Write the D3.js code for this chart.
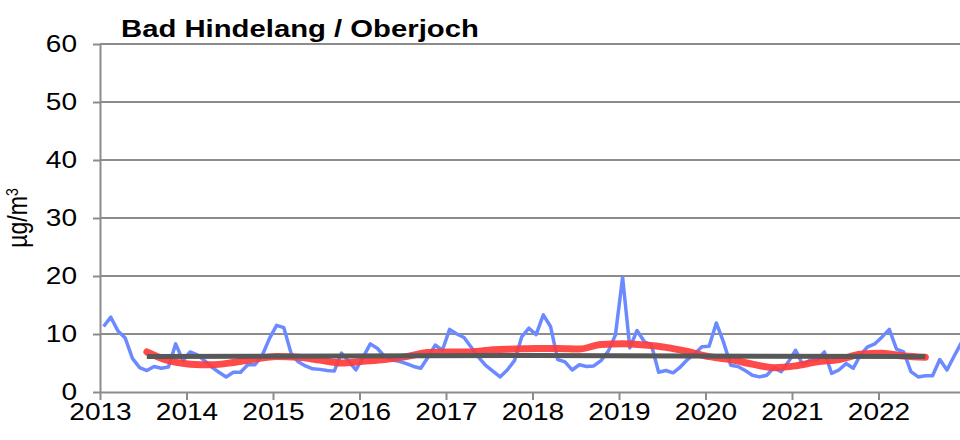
<!DOCTYPE html>
<html>
<head>
<meta charset="utf-8">
<script src="https://cdn.jsdelivr.net/npm/d3@7"></script>
<style>
  body { margin: 0; background: #fff; }
  svg { display: block; font-family: "Liberation Sans", Arial, sans-serif; }
</style>
</head>
<body>
<svg id="chart"></svg>
<script>
// monthly values, Jan 2013 .. Dec 2022
var startYear = 2013;
var blueValues = [
  11.3, 12.9, 10.5, 9.3, 5.8, 4.2, 3.7, 4.4, 4.1, 4.3, 8.3, 5.4,
  6.9, 6.4, 5.4, 4.3, 3.4, 2.6, 3.4, 3.4, 4.7, 4.7, 6.3, 9.2,
  11.5, 11.1, 6.7, 5.2, 4.5, 4.0, 3.9, 3.7, 3.6, 6.7, 5.3, 3.8,
  6.0, 8.3, 7.5, 6.1, 5.5, 5.3, 4.9, 4.4, 4.1, 6.0, 8.1, 7.2,
  10.8, 10.0, 9.4, 7.7, 6.0, 4.6, 3.6, 2.6, 3.8, 5.4, 9.5, 11.0,
  9.9, 13.3, 11.3, 5.6, 5.2, 3.8, 4.7, 4.4, 4.5, 5.4, 7.0, 9.8,
  19.8, 7.6, 10.6, 8.7, 8.1, 3.4, 3.7, 3.3, 4.3, 5.6, 6.6, 7.8,
  7.9, 11.9, 8.6, 4.6, 4.4, 3.7, 2.9, 2.6, 2.9, 4.2, 3.5, 5.2,
  7.2, 4.7, 5.5, 5.5, 6.9, 3.2, 3.8, 4.9, 4.1, 6.4, 7.8, 8.3,
  9.5, 10.8, 7.4, 6.9, 3.5, 2.6, 2.8, 2.8, 5.6, 3.8, 6.2, 8.5
];

// red line read every 3 months, starting Jul 2013 (month index 6)
var redStartMonth = 6;
var redStep = 3;
var redValues = [
  6.9, 5.4, 4.8, 4.7, 5.1, 5.7, 6.1, 6.0, 5.5, 5.0, 5.3, 5.6, 6.1,
  6.8, 6.9, 6.9, 7.3, 7.4, 7.5, 7.5, 7.4, 8.2, 8.3, 8.1, 7.7, 7.0,
  6.1, 5.6, 4.8, 4.2, 4.5, 5.2, 5.6, 6.5, 6.7, 6.2, 6.0
];

// dark trend line
var trendMonths = [6, 60, 114];
var trendValues = [6.1, 6.3, 6.1];

var yTicks = [0, 10, 20, 30, 40, 50, 60];
var xTicks = [2013, 2014, 2015, 2016, 2017, 2018, 2019, 2020, 2021, 2022];

var title = "Bad Hindelang / Oberjoch";

var width = 960, height = 440;
var plot = { left: 100, top: 44, right: 965, bottom: 392 };
var stretch = 1.22; // text in the reference is wider than normal

var svg = d3.select("#chart").attr("width", width).attr("height", height);

var x = d3.scaleLinear().domain([2013, 2023]).range([plot.left, plot.right]);
var y = d3.scaleLinear().domain([0, 60]).range([plot.bottom, plot.top]);

function monthPos(i) {
  return startYear + (i + 0.5) / 12;
}

// gridlines
svg.append("g")
  .selectAll("line")
  .data(yTicks.filter(function (d) { return d > 0; }))
  .enter()
  .append("line")
  .attr("x1", plot.left)
  .attr("x2", width)
  .attr("y1", function (d) { return y(d); })
  .attr("y2", function (d) { return y(d); })
  .attr("stroke", "#8c8c8c")
  .attr("stroke-width", 2);

var yAxis = d3.axisLeft(y).tickValues(yTicks).tickSize(7).tickSizeOuter(0);
var gy = svg.append("g")
  .attr("transform", "translate(" + plot.left + ",0)")
  .call(yAxis);

var xAxis = d3.axisBottom(x).tickValues(xTicks).tickFormat(d3.format("d"))
  .tickSize(8).tickSizeOuter(0);
var gx = svg.append("g")
  .attr("transform", "translate(0," + plot.bottom + ")")
  .call(xAxis);

[gx, gy].forEach(function (g) {
  g.selectAll("path, line").attr("stroke", "#8c8c8c").attr("stroke-width", 2);
  g.selectAll("text")
    .attr("fill", "#000")
    .style("font-size", "23px")
    .style("font-family", "Liberation Sans, Arial, sans-serif");
});
gy.selectAll("text").attr("x", -23 / stretch).attr("transform", "scale(" + stretch + ",1)");
gx.selectAll("text").attr("y", 12).attr("transform", "scale(" + stretch + ",1)");

// lines
var blueLine = d3.line()
  .x(function (d, i) { return x(monthPos(i)); })
  .y(function (d) { return y(d); });

svg.append("path")
  .attr("fill", "none")
  .attr("stroke", "#6b8aff")
  .attr("stroke-width", 3.5)
  .attr("stroke-linejoin", "round")
  .attr("d", blueLine(blueValues));

var redLine = d3.line()
  .curve(d3.curveMonotoneX)
  .x(function (d, i) { return x(monthPos(redStartMonth + i * redStep)); })
  .y(function (d) { return y(d); });

svg.append("path")
  .attr("fill", "none")
  .attr("stroke", "#ff3b3b")
  .attr("stroke-opacity", 0.92)
  .attr("stroke-width", 7)
  .attr("stroke-linecap", "round")
  .attr("d", redLine(redValues));

var trendLine = d3.line()
  .x(function (d, i) { return x(monthPos(trendMonths[i])); })
  .y(function (d) { return y(d); });

svg.append("path")
  .attr("fill", "none")
  .attr("stroke", "#585858")
  .attr("stroke-width", 5)
  .attr("d", trendLine(trendValues));

// title
svg.append("text")
  .attr("x", 121 / stretch)
  .attr("y", 37)
  .attr("transform", "scale(" + stretch + ",1)")
  .style("font-size", "24px")
  .style("font-weight", "bold")
  .text(title);

// y label
var ylab = svg.append("text")
  .attr("text-anchor", "middle")
  .attr("transform", "translate(27,218)rotate(-90)scale(1," + stretch + ")")
  .style("font-size", "23px");
ylab.append("tspan").text("µg/m");
ylab.append("tspan").attr("baseline-shift", "super").style("font-size", "14px").text("3");
</script>
</body>
</html>
